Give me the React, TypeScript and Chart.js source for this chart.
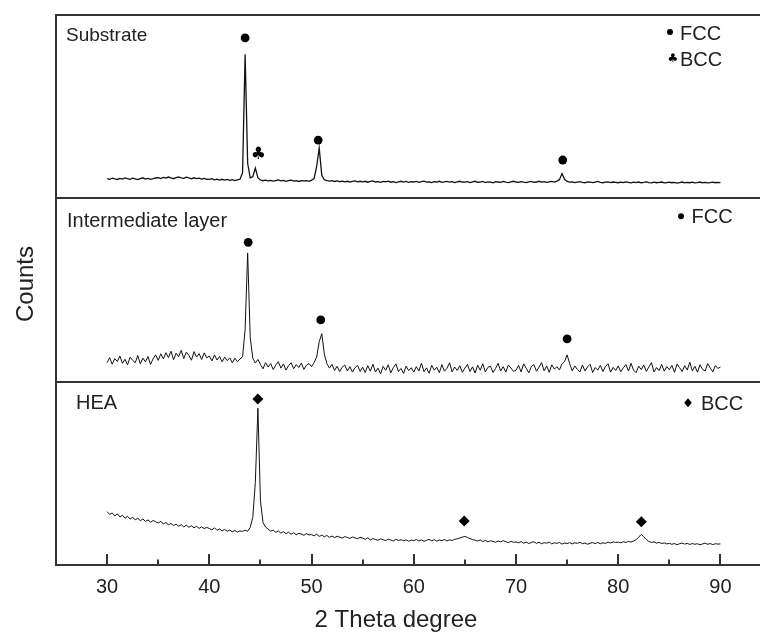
import { useEffect, useRef } from 'react';
import { Chart, registerables } from 'chart.js';

Chart.register(...registerables);

// 2θ scan definition (shared by all three patterns)
const THETA_START = 30;
const THETA_STEP = 0.25;
const X_MIN = 25;
const X_MAX = 93.33;
const MAJOR_TICKS = [30, 40, 50, 60, 70, 80, 90];
const MINOR_TICKS = [35, 45, 55, 65, 75, 85];

const PANEL_NAMES = ['Substrate', 'Intermediate layer', 'HEA'];
const X_TITLE = '2 Theta degree';
const Y_TITLE = 'Counts';

// Counts (arbitrary units, each panel 0-1000), one value per 0.25° from 30° to 90°
const SUBSTRATE = [
  108, 104, 110, 106, 103, 109, 105, 111, 107, 104, 110, 106, 102, 108, 112, 105, 109, 104, 107, 111,
  113, 108, 114, 110, 116, 111, 107, 113, 117, 112, 109, 115, 111, 106, 112, 108, 110, 105, 109, 104,
  103, 107, 101, 105, 100, 104, 99, 103, 98, 102, 97, 101, 104, 140, 786, 190, 112, 118, 165, 113,
  100, 96, 99, 95, 98, 94, 97, 100, 95, 98, 93, 97, 99, 94, 96, 92, 97, 95, 96, 93,
  99, 108, 175, 274, 125, 101, 96, 94, 97, 92, 95, 91, 94, 90, 93, 89, 92, 95, 90, 93,
  90, 93, 88, 92, 95, 89, 91, 87, 92, 90, 94, 88, 91, 86, 90, 93, 89, 92, 87, 91,
  89, 92, 87, 91, 94, 88, 90, 86, 91, 89, 93, 87, 90, 92, 88, 91, 86, 90, 93, 89,
  88, 91, 86, 90, 93, 87, 89, 92, 86, 90, 88, 85, 91, 89, 87, 92, 88, 86, 90, 93,
  89, 87, 91, 88, 86, 90, 92, 87, 89, 93, 88, 91, 87, 90, 92, 89, 94, 102, 135, 104,
  92, 88, 90, 86, 89, 91, 87, 85, 90, 88, 86, 89, 92, 87, 85, 88, 90, 86, 89, 87,
  85, 88, 86, 90, 87, 84, 88, 86, 89, 85, 87, 90, 86, 84, 88, 85, 87, 89, 84, 86,
  88, 85, 87, 83, 86, 89, 84, 87, 85, 88, 84, 86, 89, 85, 87, 84, 86, 88, 85, 87,
  86,
];

const INTERMEDIATE = [
  104, 131, 95, 126, 110, 140, 100, 122, 92, 134, 116, 103, 143, 97, 128, 108, 137, 94, 125, 146,
  116, 152, 124, 158, 131, 166, 120, 155, 136, 171, 126, 161, 144, 117, 164, 134, 153, 121, 157, 130,
  140, 113, 146, 118, 138, 108, 134, 115, 130, 103, 128, 109, 124, 135, 285, 702, 240, 128, 102, 121,
  94, 70, 104, 80, 99, 66, 91, 109, 74, 97, 63, 88, 103, 71, 93, 77, 101, 67, 90, 99,
  82, 104, 135, 218, 262, 150, 98, 74, 94, 61, 84, 55, 79, 91, 58, 82, 52, 76, 89, 56,
  79, 50, 87, 57, 95, 53, 74, 43, 83, 62, 92, 48, 77, 97, 55, 72, 45, 85, 60, 76,
  52, 82, 58, 101, 54, 75, 46, 89, 63, 79, 49, 93, 57, 73, 103, 53, 80, 61, 87, 51,
  74, 94, 55, 81, 47, 90, 62, 98, 53, 78, 85, 50, 72, 100, 58, 82, 52, 91, 75, 56,
  63, 89, 53, 97, 73, 48, 83, 93, 57, 79, 104, 59, 86, 51, 92, 68, 82, 64, 97, 110,
  146, 98, 59, 86, 67, 53, 91, 58, 81, 95, 50, 77, 63, 89, 55, 83, 98, 52, 78, 61,
  86, 54, 76, 93, 58, 100, 63, 49, 85, 66, 91, 56, 80, 104, 53, 77, 60, 94, 57, 82,
  65, 89, 51, 96, 76, 55, 87, 63, 106, 59, 84, 52, 92, 67, 58, 99, 74, 53, 88, 72,
  80,
];

const HEA = [
  291, 276, 284, 268, 279, 262, 271, 255, 266, 250, 260, 247, 255, 242, 251, 238, 246, 233, 243, 236,
  229, 238, 224, 232, 219, 227, 215, 223, 211, 220, 208, 217, 206, 214, 203, 211, 200, 208, 198, 205,
  199, 192, 203, 189, 197, 186, 194, 184, 191, 181, 188, 179, 186, 183, 190, 184, 205, 260, 450, 855,
  350, 232, 207, 196, 185, 190, 178, 186, 174, 182, 171, 179, 168, 176, 165, 173, 169, 162, 171, 164,
  166, 159, 168, 156, 163, 154, 161, 151, 158, 149, 157, 152, 147, 155, 150, 145, 153, 148, 143, 151,
  146, 140, 149, 137, 144, 139, 135, 143, 138, 133, 141, 136, 131, 140, 134, 138, 132, 137, 130, 136,
  133, 139, 131, 137, 129, 135, 140, 132, 138, 130, 136, 133, 139, 131, 137, 134, 140, 143, 147, 152,
  156, 150, 144, 139, 135, 131, 137, 128, 134, 126, 132, 129, 124, 131, 126, 133, 127, 122, 129, 124,
  126, 121, 128, 119, 125, 117, 123, 127, 118, 124, 116, 122, 119, 125, 115, 121, 118, 123, 114, 120,
  117, 122, 115, 121, 118, 124, 116, 120, 113, 119, 122, 117, 123, 116, 121, 118, 125, 120, 126, 123,
  125, 121, 127, 123, 129, 125, 131, 138, 152, 167, 154, 139, 128, 123, 126, 119, 124, 117, 121, 115,
  118, 113, 117, 111, 116, 120, 114, 118, 112, 117, 113, 116, 110, 115, 119, 113, 117, 111, 116, 114,
  115,
];

// Phase markers above peaks (2θ, panel count units)
const SUB_FCC_X = [43.5, 50.65, 74.57];
const SUB_FCC_Y = [875, 318, 209];
const SUB_BCC_X = [44.8];
const SUB_BCC_Y = [236];
const INT_FCC_X = [43.8, 50.9, 75.0];
const INT_FCC_Y = [760, 337, 233];
const HEA_BCC_X = [44.75, 64.93, 82.26];
const HEA_BCC_Y = [906, 240, 236];

const FONT = '"Liberation Sans", Arial, Helvetica, sans-serif';
const INK = '#111';
const FRAME = '#333';

const toPoints = (ys: number[]) => ys.map((y, i) => ({ x: THETA_START + i * THETA_STEP, y }));
const zip = (xs: number[], ys: number[]) => xs.map((x, i) => ({ x, y: ys[i] }));

const yAxis = () => ({
  type: 'linear' as const,
  position: 'left' as const,
  stack: 'panels',
  stackWeight: 1,
  min: 0,
  max: 1000,
  ticks: { display: false },
  grid: { display: false },
  border: { display: false },
  afterFit: (s: any) => { s.width = 0; },
});

const drawDiamond = (ctx: CanvasRenderingContext2D, x: number, y: number, r: number) => {
  ctx.beginPath();
  ctx.moveTo(x, y - r);
  ctx.lineTo(x + r * 0.85, y);
  ctx.lineTo(x, y + r);
  ctx.lineTo(x - r * 0.85, y);
  ctx.closePath();
  ctx.fill();
};

const decorPlugin = {
  id: 'decor',
  afterDatasetsDraw(chart: any) {
    const ctx: CanvasRenderingContext2D = chart.ctx;
    const { left, top, bottom } = chart.chartArea;
    const edge = chart.width;
    const xs = chart.scales.x;
    const ySub = chart.scales.ySub;
    const yInt = chart.scales.yInt;
    const yHea = chart.scales.yHea;
    ctx.save();

    // frame and panel separators
    ctx.strokeStyle = FRAME;
    ctx.lineWidth = 2;
    ctx.beginPath();
    ctx.moveTo(edge, top);
    ctx.lineTo(left, top);
    ctx.lineTo(left, bottom);
    ctx.lineTo(edge, bottom);
    const sep1 = Math.round(ySub.bottom);
    const sep2 = Math.round(yInt.bottom);
    ctx.moveTo(left, sep1);
    ctx.lineTo(edge, sep1);
    ctx.moveTo(left, sep2);
    ctx.lineTo(edge, sep2);
    ctx.stroke();

    // inward ticks
    ctx.beginPath();
    MAJOR_TICKS.forEach((v) => {
      const px = Math.round(xs.getPixelForValue(v));
      ctx.moveTo(px, bottom);
      ctx.lineTo(px, bottom - 11);
    });
    MINOR_TICKS.forEach((v) => {
      const px = Math.round(xs.getPixelForValue(v));
      ctx.moveTo(px, bottom);
      ctx.lineTo(px, bottom - 5.5);
    });
    ctx.stroke();

    // tick labels
    ctx.fillStyle = '#222';
    ctx.font = `20px ${FONT}`;
    ctx.textAlign = 'center';
    ctx.textBaseline = 'alphabetic';
    MAJOR_TICKS.forEach((v) => {
      ctx.fillText(String(v), xs.getPixelForValue(v), bottom + 28);
    });

    // axis titles
    ctx.font = `24px ${FONT}`;
    ctx.fillText(X_TITLE, left + 340, bottom + 62);
    ctx.save();
    ctx.translate(left - 23, (top + bottom) / 2 - 6);
    ctx.rotate(-Math.PI / 2);
    ctx.fillText(Y_TITLE, 0, 0);
    ctx.restore();

    // panel names
    ctx.textAlign = 'left';
    ctx.font = `19px ${FONT}`;
    ctx.fillText(PANEL_NAMES[0], left + 10, ySub.top + 25.5);
    ctx.font = `20px ${FONT}`;
    ctx.fillText(PANEL_NAMES[1], left + 11, yInt.top + 28.5);
    ctx.fillText(PANEL_NAMES[2], left + 20, yHea.top + 27);

    // clubs above BCC peak of substrate
    ctx.fillStyle = '#000';
    ctx.textAlign = 'center';
    ctx.textBaseline = 'middle';
    ctx.font = `bold 17px "DejaVu Sans", sans-serif`;
    SUB_BCC_X.forEach((x, i) => {
      ctx.fillText('\u2663', xs.getPixelForValue(x), ySub.getPixelForValue(SUB_BCC_Y[i]));
    });

    // in-panel legends
    ctx.beginPath();
    ctx.arc(edge - 90, ySub.top + 17, 3, 0, Math.PI * 2);
    ctx.fill();
    ctx.font = `12px "DejaVu Sans", sans-serif`;
    ctx.fillText('\u2663', edge - 87, ySub.top + 44);
    ctx.beginPath();
    ctx.arc(edge - 79, yInt.top + 18, 3, 0, Math.PI * 2);
    ctx.fill();
    drawDiamond(ctx, edge - 72, yHea.top + 21, 4.5);

    ctx.fillStyle = '#222';
    ctx.textAlign = 'left';
    ctx.textBaseline = 'alphabetic';
    ctx.font = `20px ${FONT}`;
    ctx.fillText('FCC', edge - 80, ySub.top + 24.5);
    ctx.fillText('BCC', edge - 80, ySub.top + 51);
    ctx.fillText('FCC', edge - 68.5, yInt.top + 25);
    ctx.fillText('BCC', edge - 59, yHea.top + 28.5);

    ctx.restore();
  },
};

export default function App() {
  const ref = useRef<HTMLCanvasElement | null>(null);

  useEffect(() => {
    if (!ref.current) return;
    const lineDs = (data: number[], axis: string, width: number) => ({
      type: 'scatter' as const,
      data: toPoints(data),
      yAxisID: axis,
      showLine: true,
      borderColor: INK,
      borderWidth: width,
      pointRadius: 0,
      fill: false,
      tension: 0,
    });
    const markerDs = (xs: number[], ys: number[], axis: string, style: string, r: number) => ({
      type: 'scatter' as const,
      data: zip(xs, ys),
      yAxisID: axis,
      showLine: false,
      pointStyle: style,
      pointRadius: r,
      backgroundColor: '#000',
      borderColor: '#000',
      borderWidth: 0,
    });

    const chart = new Chart(ref.current, {
      type: 'scatter',
      data: {
        datasets: [
          markerDs(SUB_FCC_X, SUB_FCC_Y, 'ySub', 'circle', 4.4),
          markerDs(INT_FCC_X, INT_FCC_Y, 'yInt', 'circle', 4.4),
          markerDs(HEA_BCC_X, HEA_BCC_Y, 'yHea', 'rectRot', 5.5),
          lineDs(SUBSTRATE, 'ySub', 1.3),
          lineDs(INTERMEDIATE, 'yInt', 1),
          lineDs(HEA, 'yHea', 1),
        ] as any,
      },
      options: {
        responsive: false,
        animation: false,
        events: [],
        layout: { padding: { left: 56, top: 15, right: 0, bottom: 0 } },
        plugins: { legend: { display: false }, tooltip: { enabled: false } },
        scales: {
          x: {
            type: 'linear',
            position: 'bottom',
            min: X_MIN,
            max: X_MAX,
            ticks: { display: false },
            grid: { display: false },
            border: { display: false },
            afterFit: (s: any) => { s.height = 67; },
          },
          yHea: yAxis(),
          yInt: yAxis(),
          ySub: yAxis(),
        } as any,
      },
      plugins: [decorPlugin],
    });
    return () => chart.destroy();
  }, []);

  return (
    <div style={{ position: 'absolute', left: 0, top: 0, width: 760, height: 632, background: '#fff', overflow: 'hidden' }}>
      <canvas ref={ref} width={760} height={632} style={{ display: 'block', width: 760, height: 632 }} />
    </div>
  );
}
